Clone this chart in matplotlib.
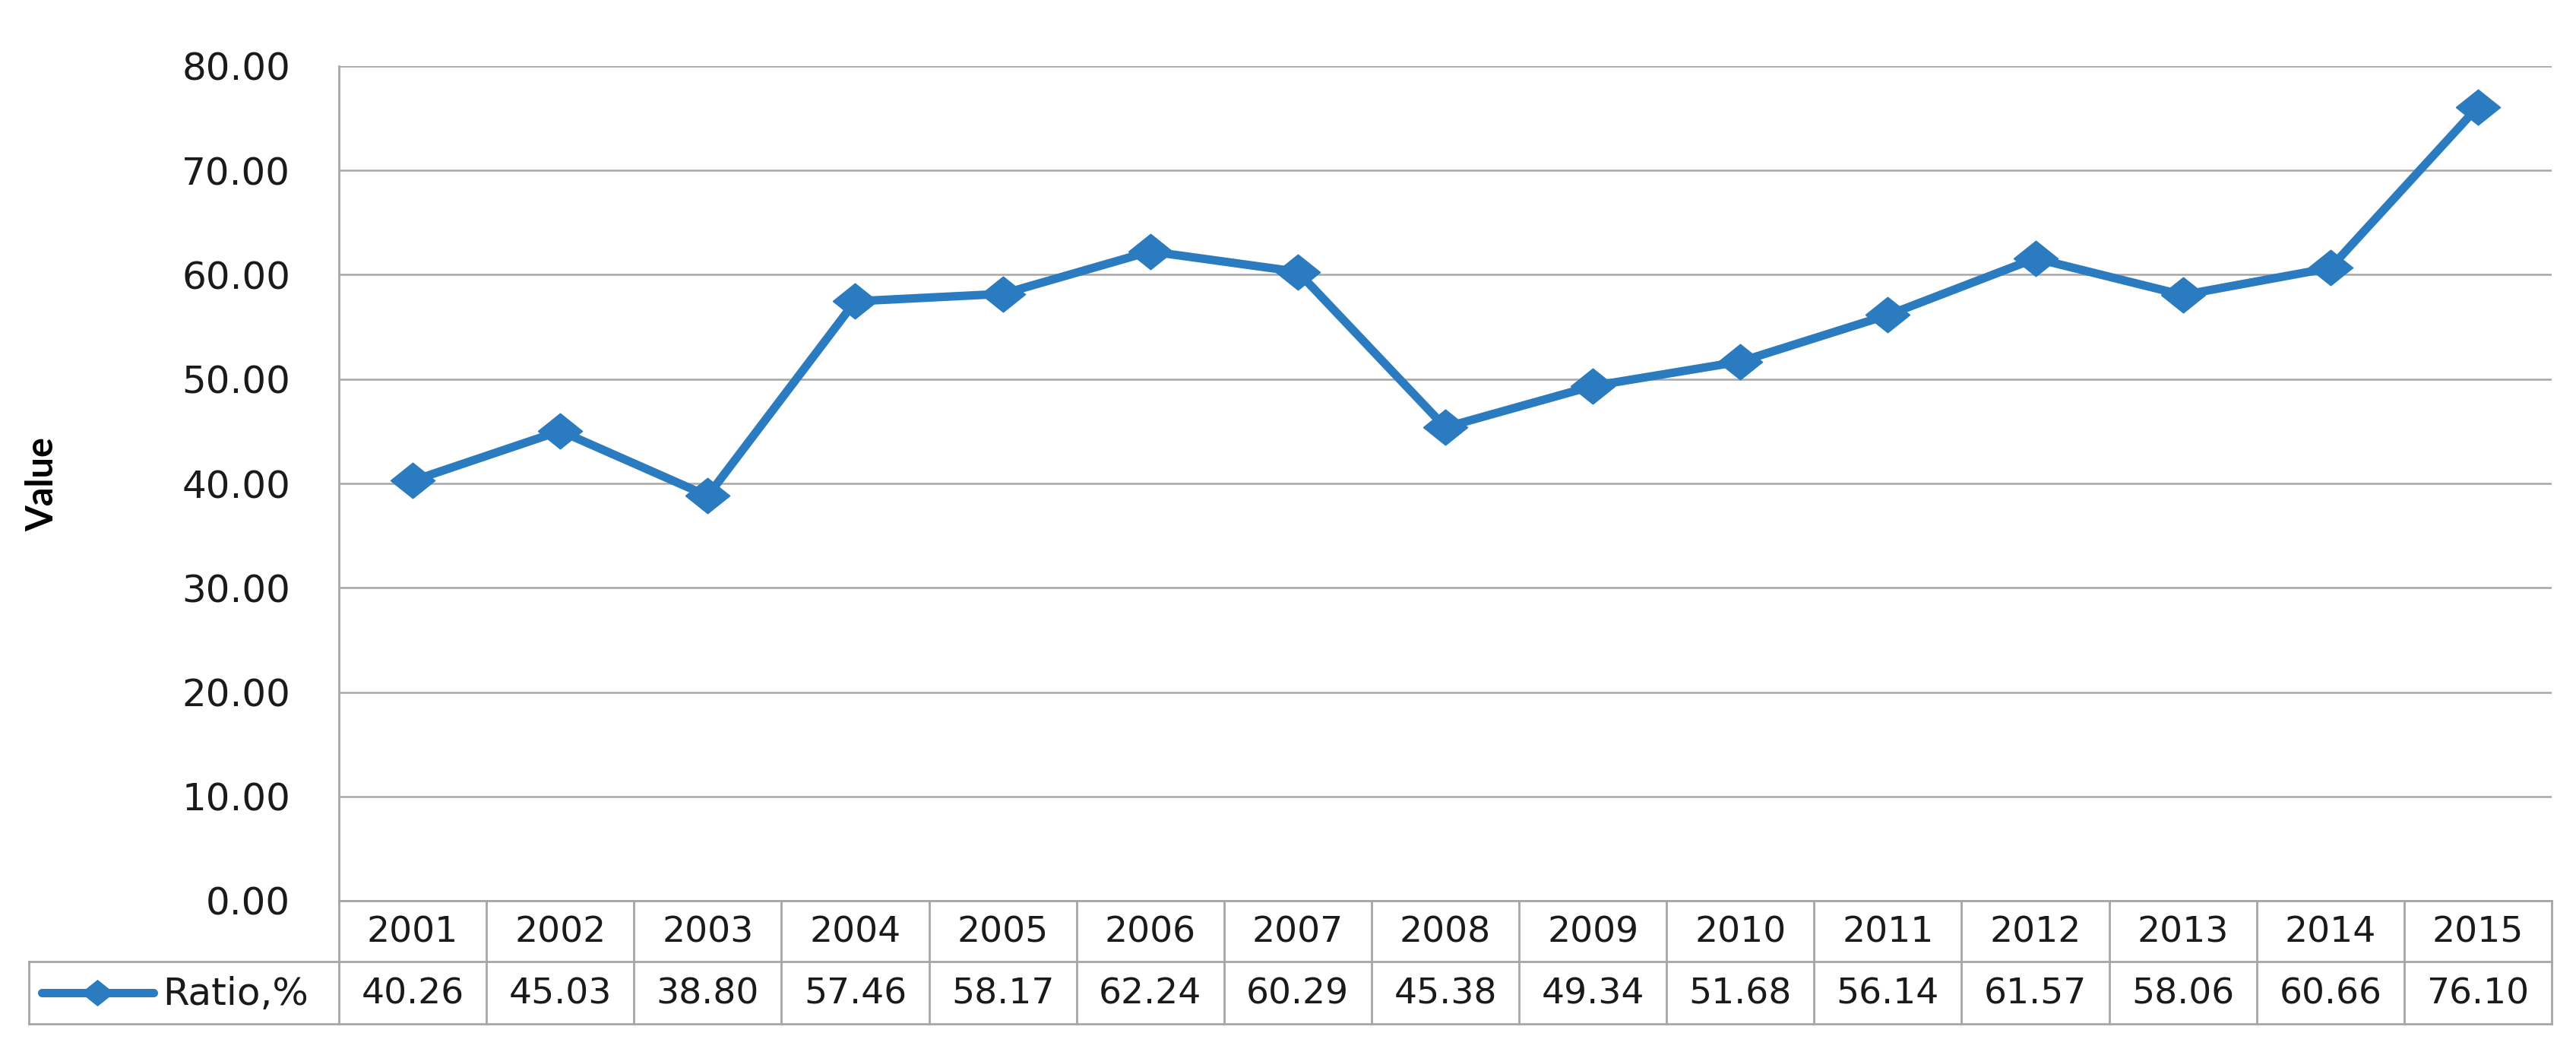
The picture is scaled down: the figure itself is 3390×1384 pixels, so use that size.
import matplotlib.pyplot as plt
from matplotlib.lines import Line2D

years = ["2001", "2002", "2003", "2004", "2005", "2006", "2007", "2008",
         "2009", "2010", "2011", "2012", "2013", "2014", "2015"]
ratio = [40.26, 45.03, 38.80, 57.46, 58.17, 62.24, 60.29, 45.38,
         49.34, 51.68, 56.14, 61.57, 58.06, 60.66, 76.10]
series_name = "Ratio,%"
y_ticks = [0, 10, 20, 30, 40, 50, 60, 70, 80]

W, H = 3391, 1384
blue = "#2A7BC0"
grid_c = "#A6A6A6"
# wide, flat diamond like the Excel marker
diamond = [(-1, 0), (0, 0.8), (1, 0), (0, -0.8), (-1, 0)]

fig = plt.figure(figsize=(W / 100, H / 100), dpi=100)

# plot area in pixels
left, right, top, zero = 446, 3358, 87, 1185
ax = fig.add_axes([left / W, 1 - zero / H, (right - left) / W, (zero - top) / H])

x = list(range(len(years)))
ax.plot(x, ratio, color=blue, lw=8, marker=diamond, ms=42, zorder=3, clip_on=False)

ax.set_xlim(-0.5, len(years) - 0.5)
ax.set_ylim(0, 80)
ax.set_yticks(y_ticks)
ax.set_yticklabels([f"{v:.2f}" for v in y_ticks], fontsize=36, family="DejaVu Sans",
                   color="#1a1a1a")
ax.tick_params(axis="y", length=0, pad=46)
ax.set_xticks([])
ax.grid(axis="y", color=grid_c, lw=1.8)
for s in ["top", "right", "bottom"]:
    ax.spines[s].set_visible(False)
ax.spines["left"].set_color(grid_c)
ax.spines["left"].set_linewidth(2)

fig.text(56 / W, 1 - 637 / H, "Value", rotation=90, ha="center", va="center",
         fontsize=35, fontweight="bold", family="Lato")

# data table below the chart
def fy(py):
    return 1 - py / H

def fx(px):
    return px / W

tab_left = 38
hdr_bot = 1265
tab_bot = 1347
col_w = (right - left) / len(years)
lkw = dict(color=grid_c, lw=2, transform=fig.transFigure)

fig.add_artist(Line2D([fx(left), fx(right)], [fy(zero), fy(zero)], **lkw))
fig.add_artist(Line2D([fx(tab_left), fx(right)], [fy(hdr_bot), fy(hdr_bot)], **lkw))
fig.add_artist(Line2D([fx(tab_left), fx(right)], [fy(tab_bot), fy(tab_bot)], **lkw))
fig.add_artist(Line2D([fx(tab_left), fx(tab_left)], [fy(hdr_bot), fy(tab_bot)], **lkw))
for i in range(len(years) + 1):
    px = left + i * col_w
    fig.add_artist(Line2D([fx(px), fx(px)], [fy(zero), fy(tab_bot)], **lkw))

for i, (yr, v) in enumerate(zip(years, ratio)):
    cx = left + (i + 0.5) * col_w
    fig.text(fx(cx), fy((zero + hdr_bot) / 2 + 2), yr, ha="center", va="center",
             fontsize=34, family="DejaVu Sans", color="#1a1a1a")
    fig.text(fx(cx), fy((hdr_bot + tab_bot) / 2 + 2), f"{v:.2f}", ha="center", va="center",
             fontsize=34, family="DejaVu Sans", color="#1a1a1a")

row_y = fy((hdr_bot + tab_bot) / 2)
fig.add_artist(Line2D([fx(55), fx(202)], [row_y, row_y], color=blue, lw=8,
                      solid_capstyle="round", transform=fig.transFigure))
fig.add_artist(Line2D([fx(128)], [row_y], color=blue, marker=diamond, ms=30, lw=0,
                      transform=fig.transFigure))
fig.text(fx(214), fy((hdr_bot + tab_bot) / 2 + 2), series_name, ha="left", va="center",
         fontsize=36, family="DejaVu Sans", color="#1a1a1a")

fig.savefig("out.png", dpi=100, facecolor="white")
